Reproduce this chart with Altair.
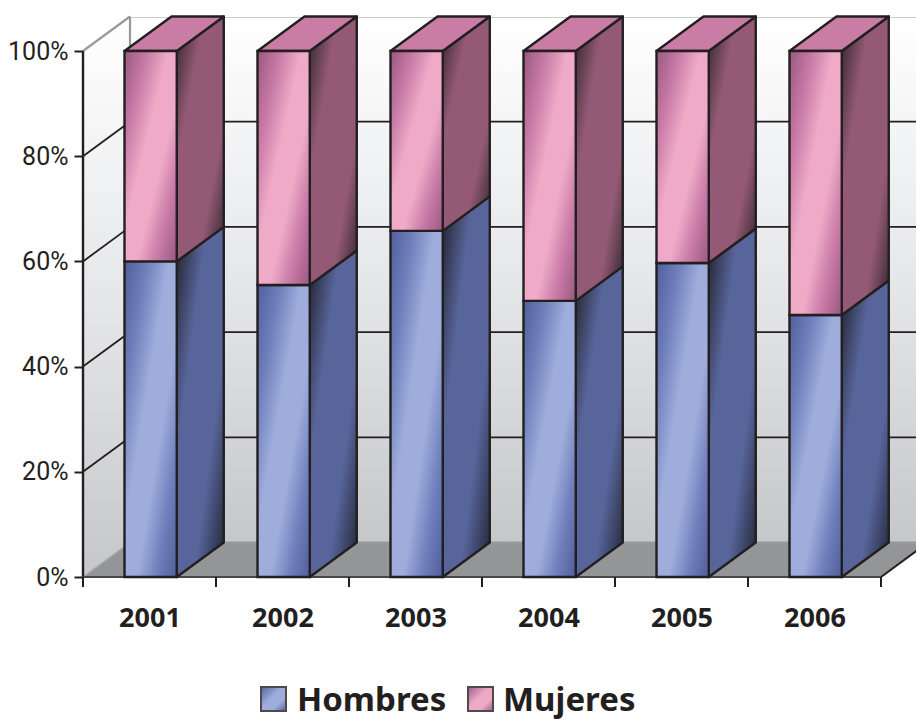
import altair as alt
import pandas as pd

# Shares per year, as fractions of the total
years = ["2001", "2002", "2003", "2004", "2005", "2006"]
hombres = [0.60, 0.555, 0.658, 0.525, 0.597, 0.498]
mujeres = [0.40, 0.445, 0.342, 0.475, 0.403, 0.502]
y_ticks = [0, 0.2, 0.4, 0.6, 0.8, 1.0]
legend_names = ["Hombres", "Mujeres"]

# Oblique depth of the box, in axis units, and bar placement in each category
DX = 0.3534
DY = 0.0656
BAR_START = 0.312
BAR_W = 0.393
X_MAX = 833 / 133
Y_MAX = 560 / 526

INK = "#231f20"
WALL_EDGE = "#98999b"


def grad(stops, x1=0, y1=0, x2=1, y2=1):
    return alt.LinearGradient(
        gradient="linear", x1=x1, y1=y1, x2=x2, y2=y2,
        stops=[alt.GradientStop(offset=o, color=c) for o, c in stops],
    )


BLUE_FRONT = grad([(0, "#505f9b"), (0.22, "#7080bc"), (0.42, "#9eaddb"), (0.62, "#9eaddb"), (0.8, "#7180bd"), (1, "#505f9b")])
PINK_FRONT = grad([(0, "#98597f"), (0.22, "#c87aa6"), (0.42, "#eeaac7"), (0.62, "#eeaac7"), (0.8, "#c87aa6"), (1, "#98597f")])
BLUE_SIDE = grad([(0, "#1f2029"), (0.32, "#58659b"), (0.68, "#58659b"), (1, "#1f2432")])
PINK_SIDE = grad([(0, "#2e2329"), (0.3, "#945a75"), (0.72, "#945a75"), (1, "#2e2329")])
PINK_TOP = "#c97ca4"
WALL = grad([(0, "#ffffff"), (0.08, "#fbfbfc"), (0.5, "#e6e7e8"), (1, "#c6c7c9")], x1=0, y1=0, x2=0, y2=1)
LEGEND_BLUE = grad([(0, "#55649f"), (0.45, "#9eaddb"), (0.7, "#9eaddb"), (1, "#55639f")])
LEGEND_PINK = grad([(0, "#9c5f88"), (0.45, "#eeaac7"), (0.7, "#eeaac7"), (1, "#9c5f88")])

# Tables derived from the value lists
fronts, sides, tops = [], [], []
for i, year in enumerate(years):
    x0 = i + BAR_START
    x1 = x0 + BAR_W
    h, m = hombres[i], mujeres[i]
    fronts.append(dict(year=year, serie="Hombres", x=x0, x2=x1, y=0, y2=h))
    fronts.append(dict(year=year, serie="Mujeres", x=x0, x2=x1, y=h, y2=h + m))
    for serie, lo, hi in (("Hombres", 0, h), ("Mujeres", h, h + m)):
        sides.append(dict(key=f"{year}{serie}", serie=serie, x=x1, y=lo, y2=hi))
        sides.append(dict(key=f"{year}{serie}", serie=serie, x=x1 + DX, y=lo + DY, y2=hi + DY))
    tops.append(dict(year=year, x=x0, x2=x1, y=h + m))
    tops.append(dict(year=year, x=x0 + DX, x2=x1 + DX, y=h + m + DY))
fronts = pd.DataFrame(fronts)
sides = pd.DataFrame(sides)
tops = pd.DataFrame(tops)

x_scale = alt.Scale(domain=[0, X_MAX], nice=False, zero=False)
y_scale = alt.Scale(domain=[0, Y_MAX], nice=False, zero=False)

y_axis = alt.Axis(
    values=y_ticks, format=".0%", title=None, grid=False, domain=False,
    tickSize=9, tickWidth=2, tickColor=INK, labelColor=INK,
    labelFont="Roboto", labelFontSize=25, labelPadding=6,
)
x_axis = alt.Axis(
    values=[i + 0.5 for i in range(len(years))],
    labelExpr="['2001','2002','2003','2004','2005','2006'][floor(datum.value)]",
    title=None, grid=False, domain=False, ticks=False, labelColor=INK,
    labelFont="Noto Sans", labelFontSize=27, labelFontWeight="bold",
    labelPadding=28, labelAngle=0,
)
X = alt.X("x:Q", scale=x_scale, axis=x_axis)
Y = alt.Y("y:Q", scale=y_scale, axis=y_axis)

# Box: walls and floor
back_wall = alt.Chart(pd.DataFrame({"x": [DX], "x2": [X_MAX + DX], "y": [DY], "y2": [1 + DY]})).mark_rect(
    fill=WALL, clip=True
).encode(x=X, x2="x2:Q", y=Y, y2="y2:Q")
side_wall = alt.Chart(pd.DataFrame({"x": [0, DX], "y": [0, DY], "y2": [1, 1 + DY]})).mark_area(
    fill=WALL
).encode(x=X, y=Y, y2="y2:Q")
floor = alt.Chart(pd.DataFrame({"y": [0, DY], "x": [0, DX], "x2": [6, 6 + DX]})).mark_area(
    fill="#949597", orient="horizontal", clip=True
).encode(y=Y, x=X, x2="x2:Q")

# Gridlines: straight on the back wall, slanted on the side wall
inner = [v for v in y_ticks if 0 < v < 1]
grid_back = alt.Chart(pd.DataFrame({"x": [DX] * 4, "x2": [X_MAX] * 4, "y": [v + DY for v in inner]})).mark_rule(
    color=INK, strokeWidth=1.8, clip=True
).encode(x=X, x2="x2:Q", y=Y)
grid_side = alt.Chart(pd.DataFrame(
    [dict(k=v, x=0, y=v) for v in inner] + [dict(k=v, x=DX, y=v + DY) for v in inner]
)).mark_line(color=INK, strokeWidth=1.8).encode(x=X, y=Y, detail="k:Q")

edge_back = alt.Chart(pd.DataFrame({"x": [DX, DX], "x2": [X_MAX, X_MAX], "y": [DY, 1 + DY]})).mark_rule(
    color=WALL_EDGE, strokeWidth=2.2, clip=True
).encode(x=X, x2="x2:Q", y=Y)
edge_slant_top = alt.Chart(pd.DataFrame({"x": [0, DX], "y": [1, 1 + DY]})).mark_line(
    color=WALL_EDGE, strokeWidth=2.2
).encode(x=X, y=Y)
edge_slant_bottom = alt.Chart(pd.DataFrame({"x": [0, DX], "y": [0, DY]})).mark_line(
    color="#a9aaac", strokeWidth=1.5
).encode(x=X, y=Y)
edge_vertical = alt.Chart(pd.DataFrame({"x": [DX], "y": [1], "y2": [1 + DY]})).mark_rule(
    color=WALL_EDGE, strokeWidth=2.2
).encode(x=X, y=Y, y2="y2:Q")
floor_right = alt.Chart(pd.DataFrame({"x": [6, 6 + DX], "y": [0, DY]})).mark_line(
    color=INK, strokeWidth=2, clip=True
).encode(x=X, y=Y)

# Axis lines and category separators
axis_left = alt.Chart(pd.DataFrame({"x": [0], "y": [0], "y2": [1]})).mark_rule(
    color=INK, strokeWidth=2.4
).encode(x=X, y=Y, y2="y2:Q")
axis_base = alt.Chart(pd.DataFrame({"x": [0], "x2": [6], "y": [0]})).mark_rule(
    color="#4a4748", strokeWidth=2
).encode(x=X, x2="x2:Q", y=Y)
cat_ticks = alt.Chart(pd.DataFrame({"x": list(range(len(years) + 1))})).mark_rule(
    color=INK, strokeWidth=2
).encode(x=X, y=alt.value(560), y2=alt.value(570))

# Bars: side faces, then the top, then the front faces
def side_layer(serie, fill):
    return alt.Chart(sides[sides.serie == serie]).mark_area(
        fill=fill, stroke=INK, strokeWidth=2.4, strokeJoin="round"
    ).encode(x=X, y=Y, y2="y2:Q", detail="key:N")


def front_layer(serie, fill):
    return alt.Chart(fronts[fronts.serie == serie]).mark_rect(
        fill=fill, stroke=INK, strokeWidth=2.4
    ).encode(x=X, x2="x2:Q", y=Y, y2="y2:Q")


top_layer = alt.Chart(tops).mark_area(
    fill=PINK_TOP, stroke=INK, strokeWidth=2.4, orient="horizontal", strokeJoin="round"
).encode(y=Y, x=X, x2="x2:Q", detail="year:N")

# Legend drawn with the same colours as the bars
def swatch(fill, left):
    return alt.Chart(pd.DataFrame({"k": [0]})).mark_rect(
        fill=fill, stroke="#4d4a4b", strokeWidth=2
    ).encode(x=alt.value(left), x2=alt.value(left + 25), y=alt.value(670), y2=alt.value(694))


def legend_text(name, left):
    return alt.Chart(pd.DataFrame({"name": [name]})).mark_text(
        align="left", baseline="alphabetic", font="Noto Sans", fontWeight="bold",
        fontSize=33, color=INK,
    ).encode(text="name:N", x=alt.value(left), y=alt.value(694))


chart = alt.layer(
    back_wall, side_wall, floor, grid_back, grid_side,
    edge_back, edge_slant_top, edge_slant_bottom, edge_vertical, floor_right,
    axis_left, axis_base, cat_ticks,
    side_layer("Hombres", BLUE_SIDE), side_layer("Mujeres", PINK_SIDE), top_layer,
    front_layer("Hombres", BLUE_FRONT), front_layer("Mujeres", PINK_FRONT),
    swatch(LEGEND_BLUE, 178), legend_text(legend_names[0], 214),
    swatch(LEGEND_PINK, 385), legend_text(legend_names[1], 420),
).properties(
    width=833, height=560,
    padding={"left": 83, "top": 17, "right": 0, "bottom": 144},
    autosize=alt.AutoSizeParams(type="none"),
    background="white",
).configure_view(stroke=None)

chart.save("out.html", embed_options={"renderer": "svg", "actions": False})
